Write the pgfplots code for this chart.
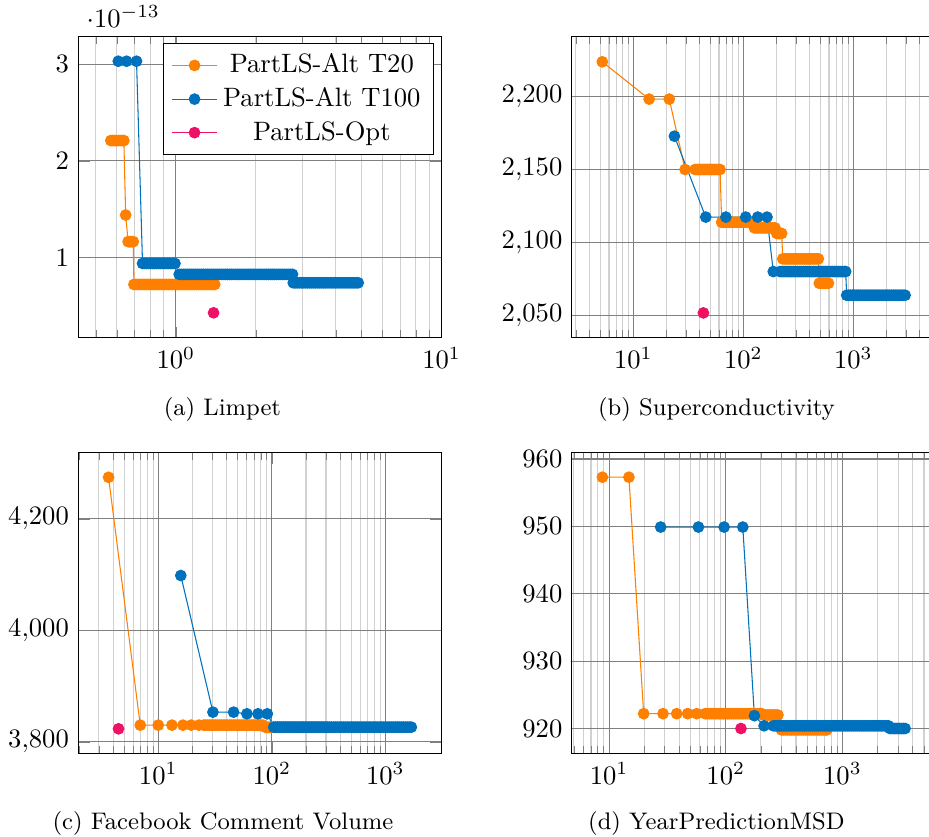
\documentclass[border=0pt]{standalone}
\usepackage{pgfplots}
\pgfplotsset{compat=1.18}

\definecolor{cOrange}{RGB}{255,127,0}
\definecolor{cBlue}{RGB}{0,114,189}
\definecolor{cPink}{RGB}{238,17,102}

\newcommand{\subcap}[1]{\fontsize{9pt}{11pt}\selectfont #1}

\begin{document}
\begin{tikzpicture}
\useasboundingbox (0,0) rectangle (349.2pt,-314.3pt);

% (a) Limpet
\begin{axis}[
  xmode=log, scale only axis, width=136.6pt, height=113.2pt,
  at={(29.4pt,-13.8pt)}, anchor=north west,
  grid=both, major grid style={black!50}, minor grid style={black!18},
  xmin=0.4289, xmax=10,
  ymin=0.172e-13, ymax=3.283e-13,
  ytick={1e-13,2e-13,3e-13},
  legend cell align=center,
  legend style={draw=black, fill=white},
]
\addplot[color=cOrange, mark=*, mark size=2pt] coordinates {
(0.569,2.21e-13) (0.579,2.21e-13) (0.589,2.21e-13) (0.599,2.21e-13) (0.610,2.21e-13)
(0.621,2.21e-13) (0.632,2.21e-13) (0.637,2.21e-13)
(0.647,1.441e-13)
(0.661,1.166e-13) (0.668,1.166e-13) (0.676,1.166e-13) (0.684,1.166e-13) (0.691,1.166e-13)
(0.695,0.724e-13) (0.707,0.724e-13) (0.720,0.724e-13) (0.732,0.724e-13) (0.745,0.724e-13)
(0.758,0.724e-13) (0.772,0.724e-13) (0.786,0.724e-13) (0.800,0.724e-13) (0.814,0.724e-13)
(0.828,0.724e-13) (0.843,0.724e-13) (0.858,0.724e-13) (0.873,0.724e-13) (0.888,0.724e-13)
(0.904,0.724e-13) (0.920,0.724e-13) (0.936,0.724e-13) (0.953,0.724e-13) (0.970,0.724e-13)
(0.987,0.724e-13) (1.004,0.724e-13) (1.022,0.724e-13) (1.040,0.724e-13) (1.059,0.724e-13)
(1.078,0.724e-13) (1.097,0.724e-13) (1.116,0.724e-13) (1.136,0.724e-13) (1.156,0.724e-13)
(1.176,0.724e-13) (1.197,0.724e-13) (1.218,0.724e-13) (1.240,0.724e-13) (1.262,0.724e-13)
(1.284,0.724e-13) (1.307,0.724e-13) (1.330,0.724e-13) (1.353,0.724e-13) (1.377,0.724e-13)
(1.400,0.724e-13)
};
\addlegendentry{PartLS-Alt T20}
\addplot[color=cBlue, mark=*, mark size=2pt] coordinates {
(0.607,3.03e-13) (0.652,3.03e-13) (0.711,3.03e-13)
(0.749,0.941e-13) (0.762,0.941e-13) (0.776,0.941e-13) (0.789,0.941e-13) (0.803,0.941e-13)
(0.817,0.941e-13) (0.832,0.941e-13) (0.847,0.941e-13) (0.862,0.941e-13) (0.877,0.941e-13)
(0.893,0.941e-13) (0.909,0.941e-13) (0.925,0.941e-13) (0.941,0.941e-13) (0.958,0.941e-13)
(0.975,0.941e-13) (0.992,0.941e-13)
(1.029,0.828e-13) (1.047,0.828e-13) (1.066,0.828e-13) (1.085,0.828e-13) (1.104,0.828e-13)
(1.123,0.828e-13) (1.143,0.828e-13) (1.163,0.828e-13) (1.184,0.828e-13) (1.205,0.828e-13)
(1.226,0.828e-13) (1.248,0.828e-13) (1.270,0.828e-13) (1.292,0.828e-13) (1.315,0.828e-13)
(1.338,0.828e-13) (1.362,0.828e-13) (1.386,0.828e-13) (1.411,0.828e-13) (1.436,0.828e-13)
(1.461,0.828e-13) (1.487,0.828e-13) (1.513,0.828e-13) (1.540,0.828e-13) (1.567,0.828e-13)
(1.595,0.828e-13) (1.623,0.828e-13) (1.652,0.828e-13) (1.681,0.828e-13) (1.711,0.828e-13)
(1.741,0.828e-13) (1.772,0.828e-13) (1.803,0.828e-13) (1.835,0.828e-13) (1.868,0.828e-13)
(1.901,0.828e-13) (1.934,0.828e-13) (1.968,0.828e-13) (2.003,0.828e-13) (2.039,0.828e-13)
(2.075,0.828e-13) (2.112,0.828e-13) (2.149,0.828e-13) (2.187,0.828e-13) (2.226,0.828e-13)
(2.265,0.828e-13) (2.305,0.828e-13) (2.346,0.828e-13) (2.387,0.828e-13) (2.430,0.828e-13)
(2.473,0.828e-13) (2.517,0.828e-13) (2.561,0.828e-13) (2.606,0.828e-13) (2.652,0.828e-13)
(2.699,0.828e-13) (2.747,0.828e-13)
(2.765,0.741e-13) (2.814,0.741e-13) (2.864,0.741e-13) (2.915,0.741e-13) (2.966,0.741e-13)
(3.019,0.741e-13) (3.072,0.741e-13) (3.127,0.741e-13) (3.182,0.741e-13) (3.238,0.741e-13)
(3.296,0.741e-13) (3.354,0.741e-13) (3.414,0.741e-13) (3.474,0.741e-13) (3.537,0.741e-13)
(3.599,0.741e-13) (3.663,0.741e-13) (3.728,0.741e-13) (3.794,0.741e-13) (3.861,0.741e-13)
(3.930,0.741e-13) (4.000,0.741e-13) (4.071,0.741e-13) (4.143,0.741e-13) (4.217,0.741e-13)
(4.292,0.741e-13) (4.368,0.741e-13) (4.445,0.741e-13) (4.524,0.741e-13) (4.604,0.741e-13)
(4.686,0.741e-13) (4.769,0.741e-13) (4.854,0.741e-13)
};
\addlegendentry{PartLS-Alt T100}
\addplot[color=cPink, mark=*, mark size=2pt] coordinates {(1.386,0.431e-13)};
\addlegendentry{PartLS-Opt}
\end{axis}

% (b) Superconductivity
\begin{axis}[
  xmode=log, scale only axis, width=136.6pt, height=113.2pt,
  at={(214.9pt,-13.8pt)}, anchor=north west,
  grid=both, major grid style={black!50}, minor grid style={black!18},
  xmin=2.75, xmax=5535,
  ymin=2034.7, ymax=2240.9,
  ytick={2050,2100,2150,2200},
]
\addplot[color=cOrange, mark=*, mark size=2pt] coordinates {
(5.22,2223.7) (13.9,2198.2) (21.2,2198.2) (29.5,2150)
(36.4,2150) (37.8,2150) (39.2,2150) (40.7,2150) (42.3,2150) (43.9,2150) (45.6,2150)
(47.3,2150) (49.1,2150) (51.0,2150) (52.9,2150) (54.9,2150) (57.0,2150) (59.2,2150) (61.4,2150)
(63.5,2113.9) (66.2,2113.9) (69.1,2113.9) (72.1,2113.9) (75.3,2113.9) (78.5,2113.9)
(81.9,2113.9) (85.5,2113.9) (89.2,2113.9) (93.1,2113.9) (97.1,2113.9) (101.3,2113.9)
(105.7,2113.9) (110.3,2113.9) (115.0,2113.9) (120,2113.9)
(126,2110) (132,2110) (137.6,2110) (143.5,2110) (149.6,2110) (156,2110) (162.7,2110)
(169.6,2110) (176.8,2110) (184.4,2110) (194,2110)
(201,2106.2) (206.5,2106.2) (212,2106.2) (217.5,2106.2) (223,2106.2)
(228,2088.8) (237.6,2088.8) (247.7,2088.8) (258.2,2088.8) (269.1,2088.8) (280.5,2088.8)
(292.3,2088.8) (304.7,2088.8) (317.6,2088.8) (331.0,2088.8) (345.0,2088.8) (359.6,2088.8)
(374.8,2088.8) (390.7,2088.8) (407.2,2088.8) (424.4,2088.8) (442.4,2088.8) (461.1,2088.8)
(480.6,2088.8)
(490,2072.1) (503,2072.1) (517,2072.1) (536,2072.1) (555,2072.1) (574,2072.1) (593,2072.1)
};
\addplot[color=cBlue, mark=*, mark size=2pt] coordinates {
(23.6,2172.8) (45.5,2117.4) (69.3,2117.4) (105,2117.4) (135,2117.4) (164,2117.4) (187,2080.1)
(215,2080.1) (224,2080.1) (233.4,2080.1) (243.2,2080.1) (253.3,2080.1) (263.9,2080.1)
(275.0,2080.1) (286.5,2080.1) (298.5,2080.1) (311.0,2080.1) (324.0,2080.1) (337.6,2080.1)
(351.7,2080.1) (366.4,2080.1) (381.8,2080.1) (397.8,2080.1) (414.5,2080.1) (431.8,2080.1)
(449.9,2080.1) (468.8,2080.1) (488.4,2080.1) (508.9,2080.1) (530.2,2080.1) (552.4,2080.1)
(575.5,2080.1) (599.6,2080.1) (624.7,2080.1) (650.9,2080.1) (678.2,2080.1) (706.6,2080.1)
(736.2,2080.1) (767.0,2080.1) (799.1,2080.1) (825,2080.1) (851,2080.1)
(869,2063.9) (905.7,2063.9) (943.9,2063.9) (983.5,2063.9) (1024,2063.9) (1067,2063.9)
(1111,2063.9) (1157,2063.9) (1205,2063.9) (1256,2063.9) (1308,2063.9) (1362,2063.9)
(1419,2063.9) (1478,2063.9) (1539,2063.9) (1603,2063.9) (1670,2063.9) (1739,2063.9)
(1812,2063.9) (1887,2063.9) (1966,2063.9) (2048,2063.9) (2133,2063.9) (2222,2063.9)
(2314,2063.9) (2410,2063.9) (2510,2063.9) (2614,2063.9) (2723,2063.9) (2836,2063.9)
(2954,2063.9)
};
\addplot[color=cPink, mark=*, mark size=2pt] coordinates {(43.3,2051.8)};
\end{axis}

% (c) Facebook Comment Volume
\begin{axis}[
  xmode=log, scale only axis, width=136.6pt, height=113.2pt,
  at={(29.4pt,-170.0pt)}, anchor=north west,
  grid=both, major grid style={black!50}, minor grid style={black!18},
  xmin=1.973, xmax=3130,
  ymin=3779.1, ymax=4319.6,
  ytick={3800,4000,4200},
]
\addplot[color=cOrange, mark=*, mark size=2pt] coordinates {
(3.65,4274.7) (6.94,3829.9) (10.0,3829.9) (13.2,3829.9) (16.5,3829.9) (19.5,3829.9) (22.8,3829.9)
(25.1,3829.9) (26.1,3829.9) (27.2,3829.9) (28.3,3829.9) (29.5,3829.9) (30.7,3829.9)
(31.9,3829.9) (33.2,3829.9) (34.6,3829.9) (36.0,3829.9) (37.5,3829.9) (39.0,3829.9)
(40.6,3829.9) (42.3,3829.9) (44.0,3829.9) (45.8,3829.9) (47.7,3829.9) (49.6,3829.9)
(51.6,3829.9) (53.7,3829.9) (55.9,3829.9) (58.2,3829.9) (60.6,3829.9) (63.1,3829.9)
(65.7,3829.9) (68.3,3829.9) (71.1,3829.9) (74.0,3829.9) (77.1,3829.9) (80.2,3829.9)
(83.5,3829.9)
(88,3826) (91.7,3826) (95.5,3826) (99.5,3826) (103.6,3826) (107.9,3826) (112.4,3826)
(117.1,3826) (122.0,3826) (127.1,3826) (132.4,3826) (137.9,3826) (143.7,3826) (149.7,3826)
(155.9,3826) (162.4,3826) (169.2,3826) (176.3,3826) (183.6,3826) (191.3,3826) (199.2,3826)
(207.5,3826) (216.2,3826) (225.2,3826) (234.6,3826) (244.4,3826) (254.6,3826) (265.2,3826)
(276.3,3826) (287.8,3826) (299.8,3826)
};
\addplot[color=cBlue, mark=*, mark size=2pt] coordinates {
(15.8,4098.4) (30.3,3853.2) (46.1,3853.2) (60.4,3850.2) (75.6,3850.2) (91.3,3850.2)
(104,3826.3) (108.3,3826.3) (112.8,3826.3) (117.5,3826.3) (122.3,3826.3) (127.4,3826.3)
(132.6,3826.3) (138.1,3826.3) (143.7,3826.3) (149.7,3826.3) (155.8,3826.3) (162.2,3826.3)
(168.9,3826.3) (175.9,3826.3) (183.1,3826.3) (190.6,3826.3) (198.5,3826.3) (206.7,3826.3)
(215.2,3826.3) (224.1,3826.3) (233.3,3826.3) (242.9,3826.3) (252.9,3826.3) (263.3,3826.3)
(274.2,3826.3) (285.5,3826.3) (297.3,3826.3) (309.5,3826.3) (322.3,3826.3) (335.6,3826.3)
(349.4,3826.3) (363.8,3826.3) (378.8,3826.3) (394.4,3826.3) (410.7,3826.3) (427.6,3826.3)
(445.3,3826.3) (463.6,3826.3) (482.7,3826.3) (502.6,3826.3) (523.4,3826.3) (545.0,3826.3)
(567.4,3826.3) (590.8,3826.3) (615.2,3826.3) (640.5,3826.3) (667.0,3826.3) (694.5,3826.3)
(723.1,3826.3) (752.9,3826.3) (784.0,3826.3) (816.3,3826.3) (850.0,3826.3) (885.0,3826.3)
(921.5,3826.3) (959.5,3826.3) (999.1,3826.3) (1040,3826.3) (1083,3826.3) (1128,3826.3)
(1174,3826.3) (1223,3826.3) (1273,3826.3) (1325,3826.3) (1380,3826.3) (1437,3826.3)
(1496,3826.3) (1558,3826.3) (1622,3826.3) (1694,3826.3)
};
\addplot[color=cPink, mark=*, mark size=2pt] coordinates {(4.47,3823.3)};
\end{axis}

% (d) YearPredictionMSD
\begin{axis}[
  xmode=log, scale only axis, width=136.6pt, height=113.2pt,
  at={(214.9pt,-170.0pt)}, anchor=north west,
  grid=both, major grid style={black!50}, minor grid style={black!18},
  xmin=4.786, xmax=6223,
  ymin=916.3, ymax=961.0,
  ytick={920,930,940,950,960},
]
\addplot[color=cOrange, mark=*, mark size=2pt] coordinates {
(8.77,957.3) (14.8,957.3) (19.8,922.2) (29.0,922.2) (38.0,922.2) (47.2,922.2) (56.4,922.2)
(66.5,922.2) (69.2,922.2) (72.0,922.2) (74.9,922.2) (78.0,922.2) (81.2,922.2) (84.5,922.2)
(87.9,922.2) (91.5,922.2) (95.2,922.2) (99.1,922.2) (103.2,922.2) (107.4,922.2) (111.8,922.2)
(116.3,922.2) (121.1,922.2) (126.0,922.2) (131.1,922.2) (136.5,922.2) (142.0,922.2)
(147.8,922.2) (153.9,922.2) (160.1,922.2) (166.7,922.2) (173.5,922.2) (180.6,922.2)
(187.9,922.2) (195.6,922.2) (203.5,922.2)
(211,922.0) (220,922.0) (229,922.0) (238,922.0) (248,922.0) (258,922.0) (269,922.0) (280,922.0)
(300,919.8) (312,919.8) (325,919.8) (338,919.8) (352,919.8) (366,919.8) (381,919.8)
(396,919.8) (412,919.8) (429,919.8) (446,919.8) (464,919.8) (483,919.8) (503,919.8)
(523,919.8) (544,919.8) (566,919.8) (589,919.8) (613,919.8) (638,919.8) (664,919.8)
(691,919.8) (719,919.8) (735,919.8)
};
\addplot[color=cBlue, mark=*, mark size=2pt] coordinates {
(27.7,949.9) (58.3,949.9) (96.8,949.9) (140,949.9) (176,921.9) (213,920.4)
(256,920.4) (266.6,920.4) (277.6,920.4) (289.1,920.4) (301.0,920.4) (313.5,920.4)
(326.4,920.4) (339.9,920.4) (354.0,920.4) (368.6,920.4) (383.9,920.4) (399.8,920.4)
(416.3,920.4) (433.5,920.4) (451.4,920.4) (470.1,920.4) (489.5,920.4) (509.7,920.4)
(530.8,920.4) (552.8,920.4) (575.6,920.4) (599.4,920.4) (624.2,920.4) (650.0,920.4)
(676.9,920.4) (704.9,920.4) (734.0,920.4) (764.4,920.4) (796.0,920.4) (828.9,920.4)
(863.2,920.4) (898.9,920.4) (936.0,920.4) (974.7,920.4) (1015,920.4) (1057,920.4)
(1101,920.4) (1146,920.4) (1194,920.4) (1243,920.4) (1295,920.4) (1348,920.4)
(1404,920.4) (1462,920.4) (1522,920.4) (1585,920.4) (1651,920.4) (1719,920.4)
(1790,920.4) (1864,920.4) (1941,920.4) (2021,920.4) (2105,920.4) (2192,920.4)
(2283,920.4) (2377,920.4) (2475,920.4)
(2550,920.0) (2652,920.0) (2758,920.0) (2868,920.0) (2983,920.0) (3102,920.0)
(3226,920.0) (3334,920.0) (3442,920.0)
};
\addplot[color=cPink, mark=*, mark size=2pt] coordinates {(135,920.0)};
\end{axis}

% sub-captions
\node[anchor=base] at (83.6pt,-156.0pt) {\subcap{(a) Limpet}};
\node[anchor=base] at (269.3pt,-156.0pt) {\subcap{(b) Superconductivity}};
\node[anchor=base] at (83.8pt,-311.7pt) {\subcap{(c) Facebook Comment Volume}};
\node[anchor=base] at (269.3pt,-311.7pt) {\subcap{(d) YearPredictionMSD}};
\end{tikzpicture}
\end{document}
